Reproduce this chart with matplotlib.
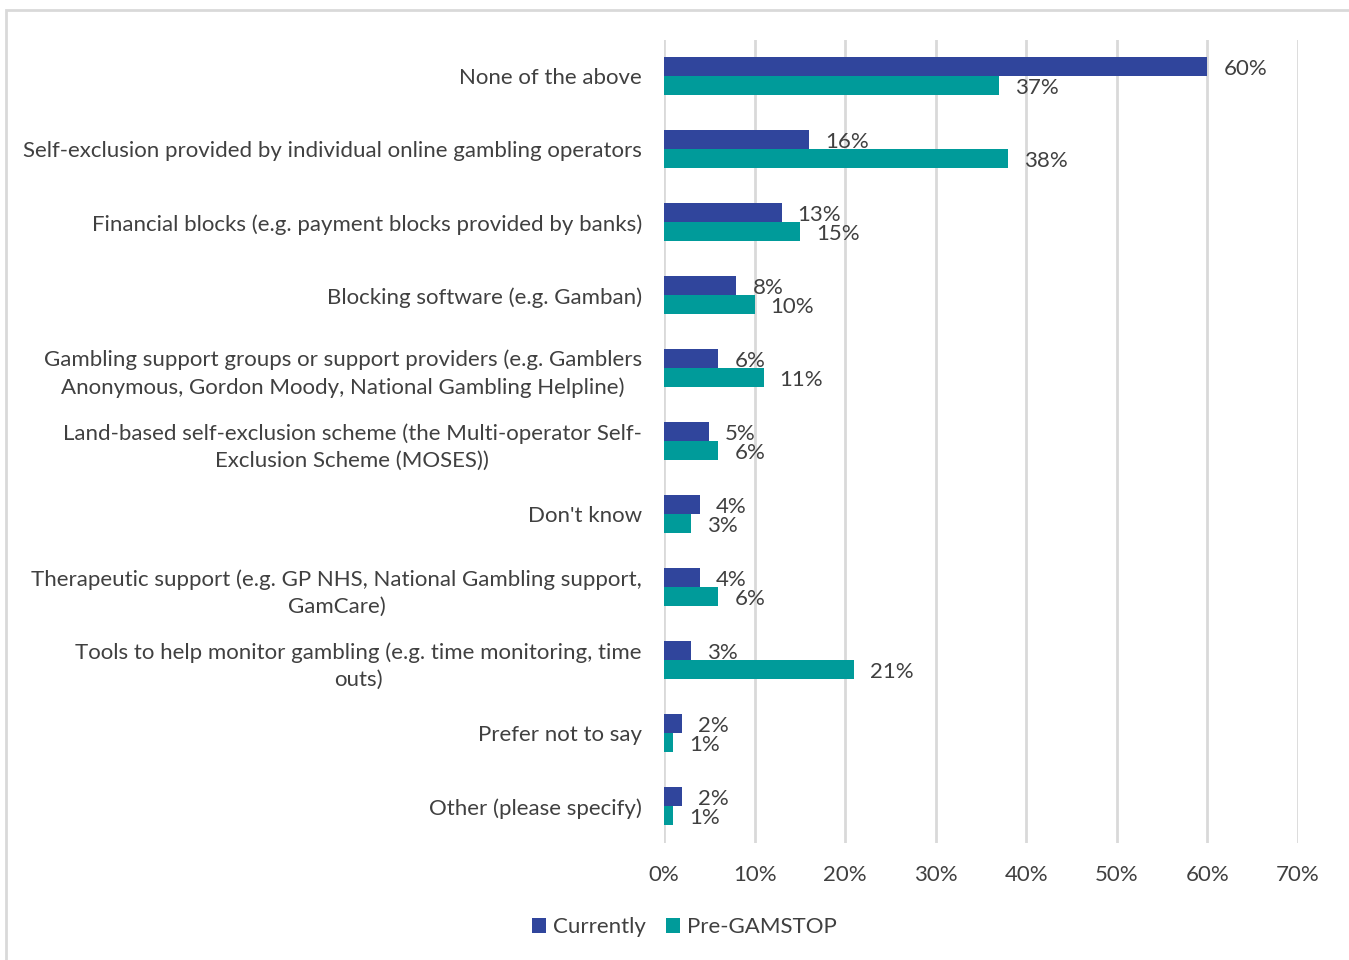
import numpy as np
import matplotlib.pyplot as plt
from matplotlib.patches import Rectangle
from matplotlib.ticker import FuncFormatter

plt.rcParams['font.family'] = ['Lato', 'DejaVu Sans']

categories = [
    "None of the above",
    "Self-exclusion provided by individual online gambling operators",
    "Financial blocks (e.g. payment blocks provided by banks)",
    "Blocking software (e.g. Gamban)",
    "Gambling support groups or support providers (e.g. Gamblers\nAnonymous, Gordon Moody, National Gambling Helpline)",
    "Land-based self-exclusion scheme (the Multi-operator Self-\nExclusion Scheme (MOSES))",
    "Don't know",
    "Therapeutic support (e.g. GP NHS, National Gambling support,\nGamCare)",
    "Tools to help monitor gambling (e.g. time monitoring, time\nouts)",
    "Prefer not to say",
    "Other (please specify)",
]
currently = [60, 16, 13, 8, 6, 5, 4, 4, 3, 2, 2]
pre_gamstop = [37, 38, 15, 10, 11, 6, 3, 6, 21, 1, 1]

c_now = '#30459C'
c_pre = '#009B9A'
txt = '#404040'
grid = '#D9D9D9'
fs = 16

fig = plt.figure(figsize=(13.49, 9.6), dpi=100)
ax = fig.add_axes([0.4922, 0.122, 0.47, 0.8365])

y = np.arange(len(categories))
h = 0.26
ax.barh(y - h / 2, currently, height=h, color=c_now, label='Currently', zorder=3)
ax.barh(y + h / 2, pre_gamstop, height=h, color=c_pre, label='Pre-GAMSTOP', zorder=3)

for i in range(len(categories)):
    ax.annotate(f"{currently[i]}%", (currently[i], y[i] - h / 2), xytext=(11.5, -1.5),
                textcoords='offset points', va='center', ha='left', fontsize=fs, color=txt)
    ax.annotate(f"{pre_gamstop[i]}%", (pre_gamstop[i], y[i] + h / 2), xytext=(11.5, -1.5),
                textcoords='offset points', va='center', ha='left', fontsize=fs, color=txt)

ax.set_xlim(0, 70)
ax.set_xticks(np.arange(0, 71, 10))
ax.xaxis.set_major_formatter(FuncFormatter(lambda v, p: f"{int(v)}%"))
ax.set_ylim(len(categories) - 0.5, -0.5)
ax.set_yticks(y)
ax.set_yticklabels(categories, multialignment='center', linespacing=1.45)
ax.tick_params(axis='both', length=0, labelsize=fs, labelcolor=txt)
ax.tick_params(axis='y', pad=16)
ax.tick_params(axis='x', pad=16)
ax.grid(axis='x', color=grid, linewidth=2, zorder=0)
for s in ax.spines.values():
    s.set_visible(False)

fig.legend(loc='center', bbox_to_anchor=(0.507, 0.034), ncol=2, frameon=False,
           fontsize=fs, labelcolor=txt, handlelength=0.65, handleheight=0.65,
           handletextpad=0.3, columnspacing=0.9)

fig.patches.append(Rectangle((6 / 1349, -0.01), 1.1, 1 - 10 / 960 + 0.01,
                             transform=fig.transFigure, fill=False,
                             edgecolor=grid, linewidth=2))

fig.savefig('out.png', dpi=100)
